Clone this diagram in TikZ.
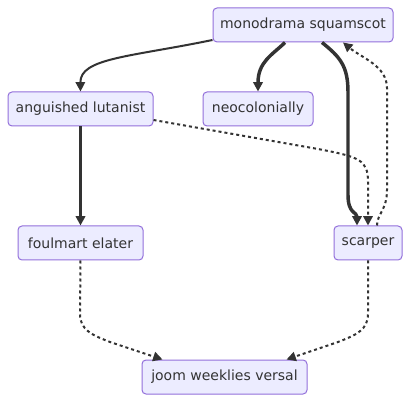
\documentclass[tikz,border=0pt]{standalone}
\usepackage{fontspec}
\setmainfont{DejaVu Sans}
\usetikzlibrary{arrows.meta,calc}
\definecolor{nodefill}{HTML}{ECECFF}
\definecolor{nodeborder}{HTML}{9370DB}
\definecolor{ink}{HTML}{333333}
\begin{document}
\begin{tikzpicture}[x=0.75pt,y=-0.75pt,
  box/.style={draw=nodeborder,fill=nodefill,line width=0.75pt,rounded corners=3pt,
    minimum height=25.5pt,inner sep=0pt,text=ink,font=\fontsize{10.5pt}{12pt}\selectfont},
  tipx/.style={-{Triangle[length=7pt,width=7pt]}},
  normaledge/.style={draw=ink,line width=1.5pt,tipx},
  thickedge/.style={draw=ink,line width=2.6pt,tipx},
  dottededge/.style={draw=ink,line width=1.5pt,dash pattern=on 2.25pt off 2.25pt,tipx}]
\useasboundingbox[fill=white] (0,0) rectangle (410,402);
\node[box,minimum width=135pt] (ms) at (303,25) {monodrama squamscot};
\node[box,minimum width=82.5pt] (neo) at (258,109) {neocolonially};
\node[box,minimum width=108.75pt] (al) at (80.5,109) {anguished lutanist};
\node[box,minimum width=93.75pt] (fe) at (80.5,243) {foulmart elater};
\node[box,minimum width=51pt] (sc) at (368,243) {scarper};
\node[box,minimum width=123.75pt] (jw) at (224.5,377) {joom weeklies versal};
% monodrama -> anguished
\draw[normaledge] ($(ms.west)+(0,15)$) .. controls (130,57) and (80,58) .. (al.north);
% monodrama -> neocolonially
\draw[thickedge] ($(ms.south)+(-18,0)$) .. controls (272,55) and (258,62) .. (neo.north);
% monodrama -> scarper
\draw[thickedge] ($(ms.south)+(19,0)$) .. controls (340,57) and (348,66) .. (348,92) -- (348,195) .. controls (348,214) and (357,212) .. ($(sc.north)+(-11,0)$);
% scarper -> monodrama
\draw[dottededge] ($(sc.north)+(9,0)$) .. controls (377,214) and (387,210) .. (387,190) -- (387,88) .. controls (387,66) and (362,58) .. ($(ms.south)+(40,0)$);
% anguished -> scarper
\draw[dottededge] ($(al.east)+(0,11)$) -- (318,149) .. controls (360,157) and (368,160) .. (368,182) -- (sc.north);
% anguished -> foulmart
\draw[thickedge] (al.south) -- (fe.north);
% foulmart -> joom
\draw[dottededge] (fe.south) -- (80,314) .. controls (80,330) and (92,335) .. (110,342) -- ($(jw.north)+(-62,0)$);
% scarper -> joom
\draw[dottededge] (sc.south) -- (368,314) .. controls (368,330) and (356,335) .. (338,342) -- ($(jw.north)+(62,0)$);
\end{tikzpicture}
\end{document}
